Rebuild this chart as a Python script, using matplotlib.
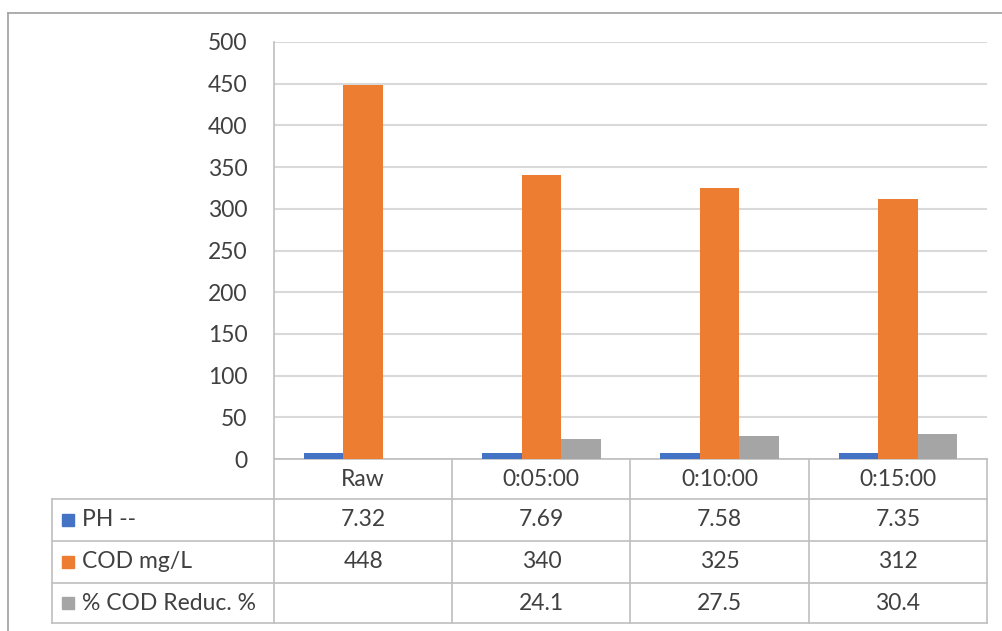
import matplotlib
matplotlib.use("Agg")
import matplotlib.pyplot as plt
import numpy as np
from matplotlib.lines import Line2D
from matplotlib.patches import Rectangle
import matplotlib.transforms as mtrans

categories = ["Raw", "0:05:00", "0:10:00", "0:15:00"]
series_names = ["PH --", "COD mg/L", "% COD Reduc. %"]
ph = [7.32, 7.69, 7.58, 7.35]
cod = [448, 340, 325, 312]
reduc = [None, 24.1, 27.5, 30.4]
ph_labels = ["7.32", "7.69", "7.58", "7.35"]
cod_labels = ["448", "340", "325", "312"]
reduc_labels = ["", "24.1", "27.5", "30.4"]
yticks = [0, 50, 100, 150, 200, 250, 300, 350, 400, 450, 500]

colors = ["#4472C4", "#ED7D31", "#A5A5A5"]
txt = "#404040"
grid_c = "#D9D9D9"
tab_c = "#BFBFBF"
FS = 16.5

plt.rcParams['font.family'] = ['Lato', 'DejaVu Sans']

W, H = 1003, 631
fig = plt.figure(figsize=(W / 100, H / 100), dpi=100)
L, R, T, B = 274, 987, 42, 459
ax = fig.add_axes([L / W, 1 - B / H, (R - L) / W, (B - T) / H])

x = np.arange(len(categories))
bw = 0.222
series = [ph, cod, [np.nan if v is None else v for v in reduc]]
for i, (s, c) in enumerate(zip(series, colors)):
    ax.bar(x + (i - 1) * bw, s, width=bw, color=c, zorder=3)

ax.set_xlim(-0.5, len(categories) - 0.5)
ax.set_ylim(0, 500)
ax.set_yticks(yticks)
ax.set_yticklabels([str(t) for t in yticks], fontsize=FS, color=txt)
ax.tick_params(axis='y', length=0, pad=19)
ax.set_xticks([])
for sp in ax.spines.values():
    sp.set_visible(False)
ax.yaxis.grid(True, color=grid_c, linewidth=1.5, zorder=0)
ax.set_axisbelow(True)

# Data table below axes
px_y = lambda p: -(p - B) / (B - T)
px_x = lambda p: (p - L) / (R - L)
rows = [459, 499, 541, 583, 623]
ytop_ax = px_y(T)
left_col = px_x(52)
tr = ax.transAxes

def line(xs, ys, **kw):
    ax.add_line(Line2D(xs, ys, transform=tr, clip_on=False, color=tab_c, linewidth=1.2, **kw))

line([0, 1], [px_y(rows[0])] * 2)
for r in rows[1:]:
    line([left_col, 1], [px_y(r)] * 2)
line([0, 0], [ytop_ax, px_y(rows[-1])])
line([1, 1], [px_y(rows[0]), px_y(rows[-1])])
line([left_col, left_col], [px_y(rows[1]), px_y(rows[-1])])
for k in range(1, len(categories)):
    xf = k / len(categories)
    line([xf, xf], [px_y(rows[0]), px_y(rows[-1])])

blend = mtrans.blended_transform_factory(ax.transData, ax.transAxes)
ycen = [px_y((rows[i] + rows[i + 1]) / 2) for i in range(4)]
for j, c in enumerate(categories):
    ax.text(j, ycen[0], c, transform=blend, ha='center', va='center', fontsize=FS, color=txt)
for i, labs in enumerate([ph_labels, cod_labels, reduc_labels]):
    for j, lab in enumerate(labs):
        ax.text(j, ycen[i + 1], lab, transform=blend, ha='center', va='center', fontsize=FS, color=txt)
    yc = (rows[i + 1] + rows[i + 2]) / 2
    fig.patches.append(Rectangle((62 / W, 1 - (yc + 6) / H), 12 / W, 12 / H,
                                 transform=fig.transFigure, color=colors[i]))
    fig.text(82 / W, 1 - yc / H, series_names[i], ha='left', va='center', fontsize=FS, color=txt)

fig.add_artist(Line2D([8 / W, 1], [1 - 13 / H] * 2, transform=fig.transFigure, color="#A6A6A6", linewidth=1.3))
fig.add_artist(Line2D([8 / W] * 2, [0, 1 - 13 / H], transform=fig.transFigure, color="#A6A6A6", linewidth=1.3))

fig.savefig("out.png", dpi=100)
